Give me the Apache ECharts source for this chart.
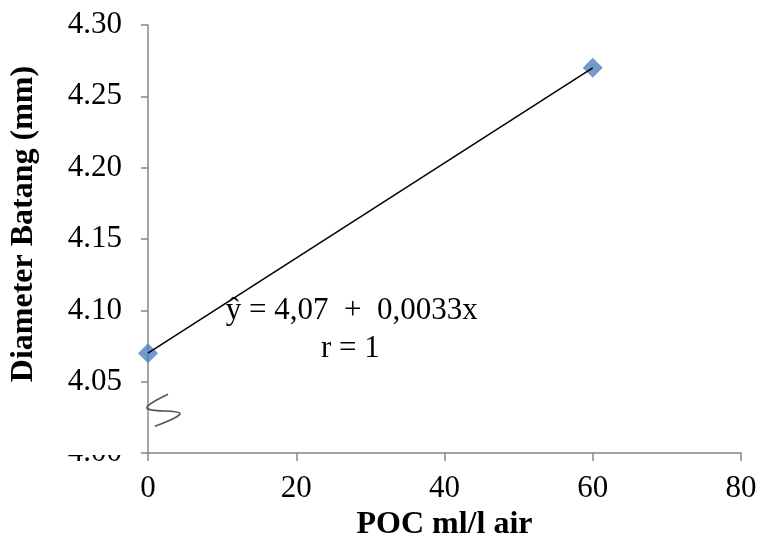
<!DOCTYPE html>
<html>
<head>
<meta charset="utf-8">
<script src="https://cdn.jsdelivr.net/npm/echarts@6/dist/echarts.min.js"></script>
<style>html,body{margin:0;padding:0;background:#fff}#c{width:761px;height:546px}</style>
</head>
<body>
<div id="c"></div>
<script>
const xValues = [0, 60];
const yValues = [4.07, 4.27];
const trendX = [0, 60];
const trendY = [4.07, 4.27];
const xTicks = [0, 20, 40, 60, 80];
const yTicks = [4.00, 4.05, 4.10, 4.15, 4.20, 4.25, 4.30];
const equationText = 'ŷ = 4,07  +  0,0033x';
const rText = 'r = 1';
const FONT = "'Liberation Serif','Times New Roman',serif";

const chart = echarts.init(document.getElementById('c'));
chart.setOption({
  animation: false,
  backgroundColor: '#fff',
  grid: { left: 148, right: 20, top: 25, bottom: 92, containLabel: false },
  xAxis: {
    type: 'value', min: xTicks[0], max: xTicks[xTicks.length - 1], interval: 20,
    name: 'POC ml/l air', nameLocation: 'middle', nameGap: 46,
    nameTextStyle: { fontFamily: FONT, fontSize: 32, fontWeight: 'bold', color: '#000' },
    axisLine: { show: true, lineStyle: { color: '#878787', width: 1.5 } },
    axisTick: { show: true, length: 8, lineStyle: { color: '#878787', width: 1.5 } },
    axisLabel: { fontFamily: FONT, fontSize: 31, color: '#000', margin: 20 },
    splitLine: { show: false }
  },
  yAxis: {
    type: 'value', min: yTicks[0], max: yTicks[yTicks.length - 1], interval: 0.05,
    name: 'Diameter Batang (mm)', nameLocation: 'middle', nameGap: 108, nameRotate: 90,
    nameTextStyle: { fontFamily: FONT, fontSize: 32, fontWeight: 'bold', color: '#000', padding: [0, 0, 0, 30] },
    axisLine: { show: true, lineStyle: { color: '#878787', width: 1.5 } },
    axisTick: { show: true, length: 7, lineStyle: { color: '#878787', width: 1.5 } },
    axisLabel: { fontFamily: FONT, fontSize: 31, color: '#000', margin: 26, formatter: v => v.toFixed(2) },
    splitLine: { show: false }
  },
  series: [
    {
      type: 'scatter', symbol: 'diamond', symbolSize: 20, z: 2,
      itemStyle: { color: '#4F81BD' },
      data: xValues.map((x, i) => [x, yValues[i]])
    },
    {
      type: 'line', showSymbol: false, symbol: 'none', z: 3,
      lineStyle: { color: '#000', width: 1.5 },
      data: trendX.map((x, i) => [x, trendY[i]])
    }
  ]
});

const p = (x, y) => chart.convertToPixel({ gridIndex: 0 }, [x, y]);
const eq = p(27.5, 4.10);
const rr = p(27.3, 4.073);
const br = p(0, 4.03);
const lab = p(0, 4.00);
chart.setOption({
  graphic: [
    { type: 'rect', z: 100, shape: { x: lab[0] - 95, y: lab[1] - 22, width: 87, height: 24 }, style: { fill: '#fff' } },
    { type: 'polyline', z: 100, shape: { smooth: 0.4, points: [
        [br[0] + 20, br[1] - 16], [br[0] - 1, br[1] - 2], [br[0] + 32, br[1] + 3], [br[0] + 7, br[1] + 16]
      ] }, style: { stroke: '#555', lineWidth: 1.6, fill: null } },
    { type: 'text', z: 100, x: eq[0], y: eq[1], style: { text: equationText, font: '31px ' + FONT, fill: '#000', align: 'center', verticalAlign: 'middle' } },
    { type: 'text', z: 100, x: rr[0], y: rr[1], style: { text: rText, font: '31px ' + FONT, fill: '#000', align: 'center', verticalAlign: 'middle' } }
  ]
});
</script>
</body>
</html>
